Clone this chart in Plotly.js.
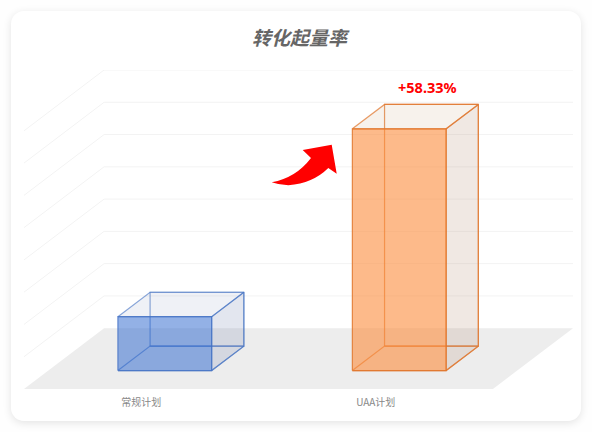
<!DOCTYPE html>
<html>
<head>
<meta charset="utf-8">
<script src="https://cdn.plot.ly/plotly-3.0.1.min.js"></script>
<style>
html,body{margin:0;padding:0;width:592px;height:432px;background:#fefefe;overflow:hidden}
#card{position:absolute;left:11px;top:11px;width:570px;height:410px;border-radius:13px;background:#fff;box-shadow:0 2px 9px rgba(0,0,0,.11)}
#chart{position:absolute;left:0;top:0;width:592px;height:432px}
</style>
</head>
<body>
<div id="card"></div>
<div id="chart"></div>
<script>
// Data
const categories = ['常规计划', 'UAA计划'];
const values = [1.67, 7.49];
const gridLevels = [1, 2, 3, 4, 5, 6, 7, 8];
const upliftLabel = '+58.33%';
const chartTitle = '转化起量率';

// Oblique projection of the pseudo-3D scene onto the 2D axes
const depthX = 0.3415, depthY = 1.884;
const barWidth = 0.4, barNear = 0.303, barFar = 0.705, barShift = -0.003;
const xMin = -0.5, xFloor = 1.5;
const P = (x, v, d) => [x + d * depthX, v + d * depthY];

const styles = [
  {edge: 'rgba(68,114,196,0.78)', backEdge: 'rgba(68,114,196,0.62)', front: 'rgba(39,99,205,0.50)', top: 'rgba(95,115,165,0.10)', side: 'rgba(90,108,161,0.17)'},
  {edge: 'rgba(224,118,44,0.85)', backEdge: 'rgba(224,118,44,0.72)', front: 'rgba(251,140,60,0.60)', top: 'rgba(175,125,65,0.10)', side: 'rgba(167,120,90,0.17)'}
];

const traces = [];
function poly(pts, fill, line, w) {
  const c = pts.concat([pts[0]]);
  traces.push({
    type: 'scatter', mode: 'lines', hoverinfo: 'skip', showlegend: false,
    x: c.map(p => p[0]), y: c.map(p => p[1]),
    fill: fill ? 'toself' : 'none', fillcolor: fill || undefined,
    line: {color: line || 'rgba(0,0,0,0)', width: w === undefined ? 1.2 : w}
  });
}
function path(pts, color, w) {
  traces.push({
    type: 'scatter', mode: 'lines', hoverinfo: 'skip', showlegend: false,
    x: pts.map(p => p[0]), y: pts.map(p => p[1]), line: {color: color, width: w}
  });
}

// floor
poly([P(xMin,0,0), P(xFloor,0,0), P(xFloor,0,1), P(xMin,0,1)], '#ededed', null, 0);
// wall grid lines
gridLevels.forEach(l => path([P(xMin,l,0), P(xMin,l,1), P(xFloor,l,1)], '#f3f3f3', 1));

// bars
values.forEach((v, i) => {
  const s = styles[i], a = i + barShift - barWidth / 2, b = i + barShift + barWidth / 2;
  const n = barNear, f = barFar;
  poly([P(a,0,f), P(b,0,f), P(b,v,f), P(a,v,f)], null, s.backEdge);    // back
  poly([P(a,0,n), P(b,0,n), P(b,0,f), P(a,0,f)], null, s.backEdge);    // bottom
  poly([P(a,v,n), P(b,v,n), P(b,v,f), P(a,v,f)], s.top, s.backEdge);   // top
  poly([P(b,0,n), P(b,0,f), P(b,v,f), P(b,v,n)], s.side, s.backEdge);  // right
  poly([P(a,0,n), P(b,0,n), P(b,v,n), P(a,v,n)], s.front, s.edge);     // front
});

// layout
const mL = 24, mR = 19, mT = 69.5, mB = 43, W = 592, H = 432;
const pw = W - mL - mR, ph = H - mT - mB;
const px = x => (x - mL) / pw, py = y => (H - mB - y) / ph;
const arrow = [[271.7,182],[288,178.3],[301.7,171],[311,157.7],[302.7,149.7],[331.7,144.3],[336.7,173.3],[328.3,167.7],[318.3,176.7],[305,183.3],[288.3,185]];
const ctrl = (a, c, b) => `Q${px(c[0])},${py(c[1])} ${px(b[0])},${py(b[1])}`;
const arrowPath =
  `M${px(arrow[0][0])},${py(arrow[0][1])} ` +
  ctrl(arrow[0], [296,177.5], arrow[3]) +
  ` L${px(arrow[4][0])},${py(arrow[4][1])} L${px(arrow[5][0])},${py(arrow[5][1])} L${px(arrow[6][0])},${py(arrow[6][1])} L${px(arrow[7][0])},${py(arrow[7][1])} ` +
  ctrl(arrow[7], [313,183], [288.3,185]) + ' ' +
  ctrl(arrow[10], [280,185], arrow[0]) + ' Z';

const labelPos = P(1, values[1], barFar);
const layout = {
  width: W, height: H,
  margin: {l: mL, r: mR, t: mT, b: mB, pad: 0},
  paper_bgcolor: 'rgba(0,0,0,0)', plot_bgcolor: 'rgba(0,0,0,0)',
  showlegend: false,
  font: {family: '"Noto Sans CJK SC", "Noto Sans", sans-serif'},
  title: {
    text: '<b><i>' + chartTitle + '</i></b>',
    font: {size: 19, color: '#666666', family: '"Noto Sans CJK SC", sans-serif'},
    x: 299.5 / W, xanchor: 'center', y: 1 - 38.5 / H, yanchor: 'middle', xref: 'container', yref: 'container'
  },
  xaxis: {
    range: [xMin, xFloor + depthX], fixedrange: true, showgrid: false, zeroline: false, showline: false,
    tickmode: 'array', tickvals: [0, 1], ticktext: categories,
    ticks: 'outside', ticklen: 4, tickcolor: 'rgba(0,0,0,0)',
    tickfont: {size: 10, color: '#888888', family: '"Noto Sans CJK SC", sans-serif'}
  },
  yaxis: {
    range: [0, 8 + depthY], fixedrange: true, showgrid: false, zeroline: false, showline: false,
    showticklabels: false, ticks: ''
  },
  annotations: [{
    x: labelPos[0], y: labelPos[1], xref: 'x', yref: 'y', xanchor: 'center', yanchor: 'bottom',
    xshift: -4.5, yshift: 5, showarrow: false,
    text: '<b>' + upliftLabel + '</b>',
    font: {size: 14.5, color: '#ff0000', family: '"Noto Sans", sans-serif'}
  }],
  shapes: [{
    type: 'path', xref: 'paper', yref: 'paper', path: arrowPath,
    fillcolor: '#ff0000', line: {width: 0}, layer: 'above'
  }]
};
Plotly.newPlot('chart', traces, layout, {displayModeBar: false, staticPlot: true});
</script>
</body>
</html>
